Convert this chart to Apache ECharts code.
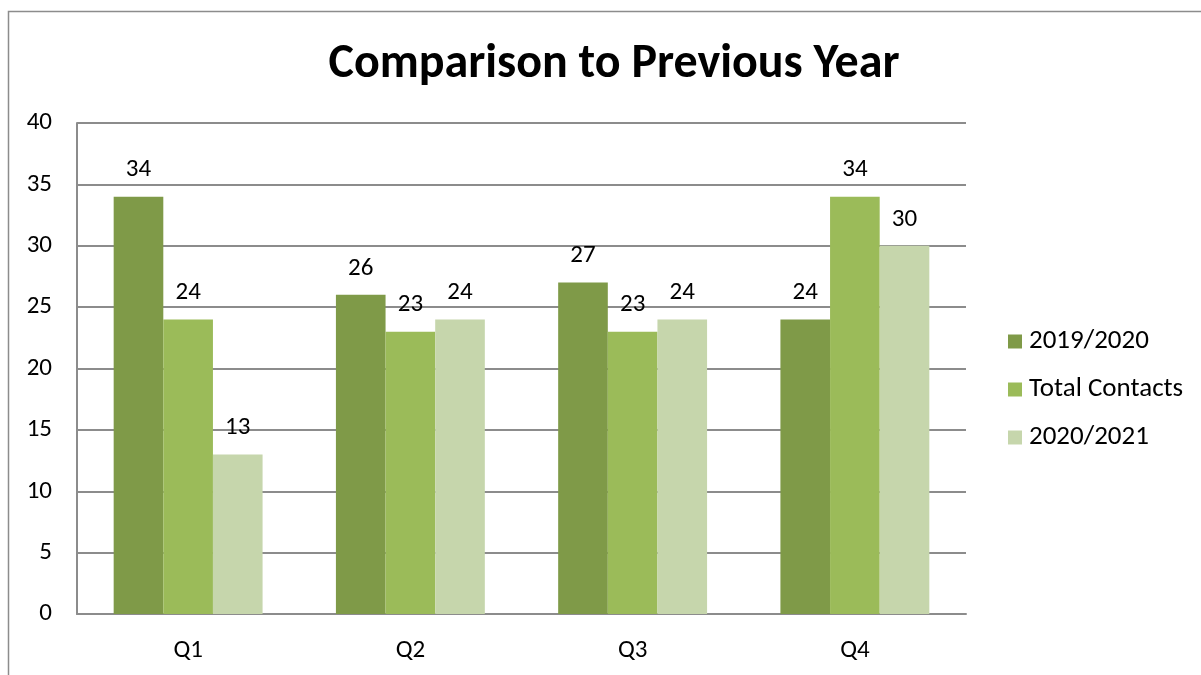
<!DOCTYPE html>
<html>
<head>
<meta charset="utf-8">
<script src="https://cdn.jsdelivr.net/npm/echarts@6/dist/echarts.min.js"></script>
<style>
  html, body { margin: 0; padding: 0; background: #fff; }
  #chart { width: 1201px; height: 675px; }
</style>
</head>
<body>
<div id="chart"></div>
<script>
// Quarterly contacts compared with the previous year
const categories = ['Q1', 'Q2', 'Q3', 'Q4'];
const seriesNames = ['2019/2020', 'Total Contacts', '2020/2021'];
const values2019 = [34, 26, 27, 24];
const valuesTotal = [24, 23, 23, 34];
const values2020 = [13, 24, 24, 30];
const yTicks = [0, 5, 10, 15, 20, 25, 30, 35, 40];

const colors = ['#7F9A48', '#9BBB59', '#C6D6AC'];
const fontFamily = 'Carlito, "Open Sans", "Liberation Sans", sans-serif';

const chart = echarts.init(document.getElementById('chart'));

function barSeries(name, data, color) {
  return {
    name: name,
    type: 'bar',
    data: data,
    barGap: '0%',
    barCategoryGap: '33%',
    itemStyle: { color: color },
    label: {
      show: true,
      position: 'top',
      distance: 14,
      color: '#000',
      fontSize: 25,
      fontFamily: fontFamily
    }
  };
}

chart.setOption({
  animation: false,
  backgroundColor: '#fff',
  graphic: [{
    type: 'rect',
    shape: { x: 8.5, y: 11.5, width: 1300, height: 800 },
    style: { fill: 'none', stroke: '#8c8c8c', lineWidth: 1.5 },
    silent: true,
    z: -1
  }],
  title: {
    text: 'Comparison to Previous Year',
    left: 609,
    top: 36,
    textAlign: 'center',
    textStyle: { fontSize: 48, fontWeight: 'bold', color: '#000', fontFamily: fontFamily }
  },
  legend: {
    orient: 'vertical',
    left: 1003,
    top: 323,
    itemWidth: 14,
    itemHeight: 14,
    itemGap: 21,
    icon: 'rect',
    data: seriesNames,
    textStyle: { fontSize: 27, lineHeight: 27, color: '#000', fontFamily: fontFamily, padding: [0, 0, 0, 2] }
  },
  grid: { left: 77, top: 123, right: 235, bottom: 61 },
  xAxis: {
    type: 'category',
    data: categories,
    axisLine: { lineStyle: { color: '#8c8c8c', width: 2 } },
    axisTick: { show: false },
    axisLabel: { fontSize: 25, color: '#000', fontFamily: fontFamily, margin: 24 }
  },
  yAxis: {
    type: 'value',
    min: yTicks[0],
    max: yTicks[yTicks.length - 1],
    interval: 5,
    axisLine: { show: true, lineStyle: { color: '#8c8c8c', width: 2 } },
    axisTick: { show: false },
    splitLine: { lineStyle: { color: '#8c8c8c', width: 2 } },
    axisLabel: { fontSize: 25, color: '#000', fontFamily: fontFamily, margin: 25 }
  },
  series: [
    barSeries(seriesNames[0], values2019, colors[0]),
    barSeries(seriesNames[1], valuesTotal, colors[1]),
    barSeries(seriesNames[2], values2020, colors[2])
  ]
});
</script>
</body>
</html>
